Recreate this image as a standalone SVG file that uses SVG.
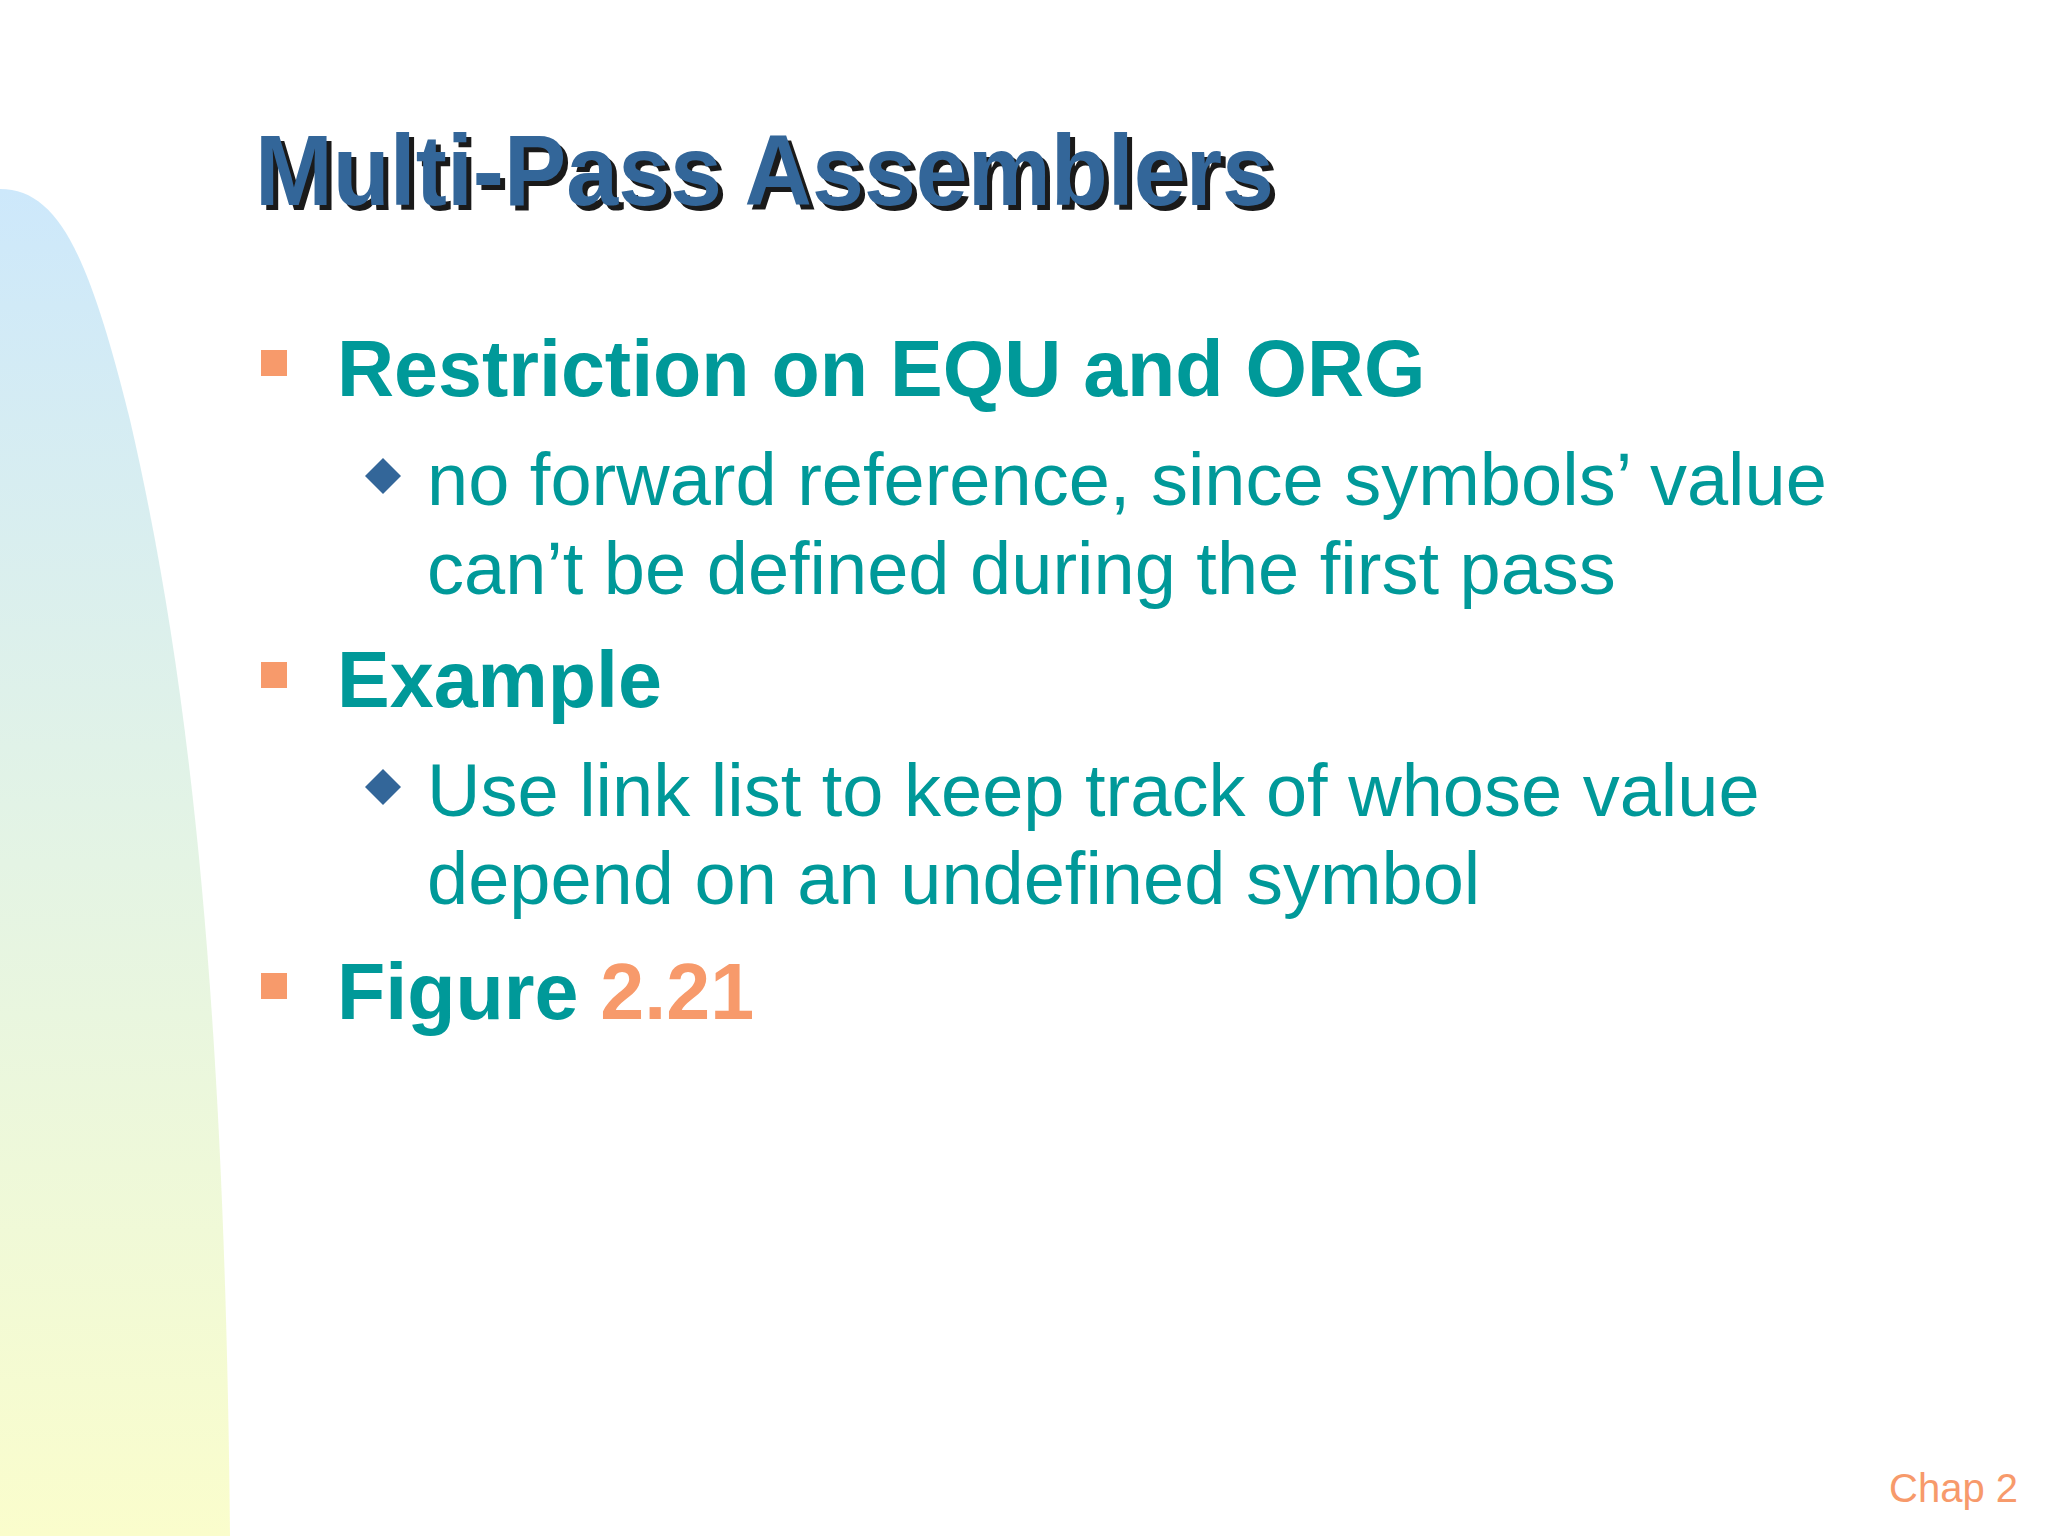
<svg xmlns="http://www.w3.org/2000/svg" width="2048" height="1536" viewBox="0 0 2048 1536">
<defs>
<linearGradient id="lg" x1="0" y1="0" x2="0" y2="1">
<stop offset="0" stop-color="#cde8fb"/>
<stop offset="0.5" stop-color="#e4f4e4"/>
<stop offset="1" stop-color="#fafdcc"/>
</linearGradient>
<style>
.t{font-family:"Liberation Sans",Arial,sans-serif;font-weight:bold;font-size:100px}
.l1{font-family:"Liberation Sans",Arial,sans-serif;font-weight:bold;font-size:79px;fill:#009999}
.l2{font-family:"Liberation Sans",Arial,sans-serif;font-size:74px;fill:#009999}
.sq{fill:#f79a6b}
.dm{fill:#336699}
</style>
</defs>
<rect width="2048" height="1536" fill="#ffffff"/>
<path d="M0,189 C60,189 90,260 130,420 C190,680 225,1000 230,1536 L0,1536 Z" fill="url(#lg)"/>
<g id="title">
<text class="t" x="260" y="210" fill="#1a1a1a" textLength="1019" lengthAdjust="spacingAndGlyphs">Multi-Pass Assemblers</text>
<text class="t" x="255" y="205" fill="#336699" textLength="1019" lengthAdjust="spacingAndGlyphs">Multi-Pass Assemblers</text>
</g>
<g id="b1">
<rect class="sq" x="261" y="350" width="26" height="26"/>
<text class="l1" x="337" y="396">Restriction on EQU and ORG</text>
</g>
<g id="b1a">
<polygon class="dm" points="383,458 401,476 383,494 365,476"/>
<text class="l2" x="427" y="505">no forward reference, since symbols’ value</text>
<text class="l2" x="427" y="594">can’t be defined during the first pass</text>
</g>
<g id="b2">
<rect class="sq" x="261" y="662" width="26" height="26"/>
<text class="l1" x="337" y="707">Example</text>
</g>
<g id="b2a">
<polygon class="dm" points="383,769 401,787 383,805 365,787"/>
<text class="l2" x="427" y="816">Use link list to keep track of whose value</text>
<text class="l2" x="427" y="904">depend on an undefined symbol</text>
</g>
<g id="b3">
<rect class="sq" x="261" y="973" width="26" height="26"/>
<text class="l1" x="337" y="1019">Figure <tspan fill="#f79a6b">2.21</tspan></text>
</g>
<text x="2018" y="1502" text-anchor="end" font-family="Liberation Sans,Arial,sans-serif" font-size="40" fill="#f79a6b">Chap 2</text>
</svg>
